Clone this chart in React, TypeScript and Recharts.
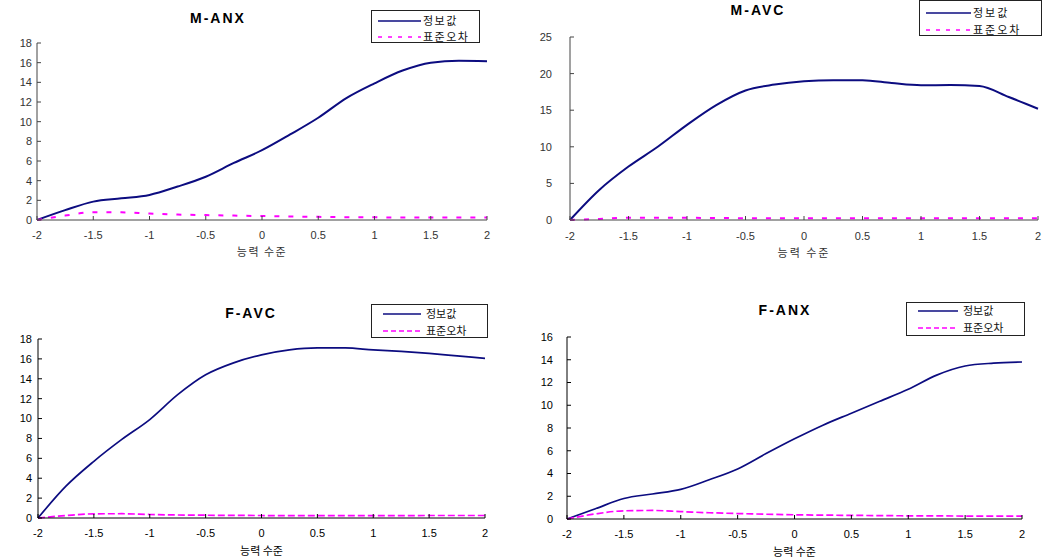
import React from 'react';
import { LineChart, Line, XAxis, YAxis, Legend, Label } from 'recharts';

// ---- data ----
const thetaLevels = [-2, -1.75, -1.5, -1.25, -1, -0.75, -0.5, -0.25, 0, 0.25, 0.5, 0.75, 1, 1.25, 1.5, 1.75, 2];
const xTicks = [-2, -1.5, -1, -0.5, 0, 0.5, 1, 1.5, 2];

const mAnxInfo = [0, 1.0, 1.87, 2.2, 2.55, 3.4, 4.4, 5.8, 7.1, 8.7, 10.4, 12.4, 13.9, 15.2, 16.0, 16.2, 16.15];
const mAnxSe = [0, 0.45, 0.8, 0.78, 0.65, 0.55, 0.5, 0.45, 0.4, 0.36, 0.32, 0.29, 0.27, 0.26, 0.25, 0.25, 0.25];

const mAvcInfo = [0, 4.1, 7.3, 10.0, 13.0, 15.7, 17.7, 18.5, 18.95, 19.1, 19.1, 18.7, 18.4, 18.45, 18.3, 16.8, 15.2];
const mAvcSe = [0, 0.15, 0.3, 0.32, 0.3, 0.27, 0.25, 0.24, 0.23, 0.23, 0.23, 0.23, 0.23, 0.23, 0.24, 0.25, 0.25];

const fAvcInfo = [0, 3.2, 5.7, 7.9, 9.9, 12.4, 14.4, 15.6, 16.4, 16.9, 17.1, 17.1, 16.9, 16.75, 16.55, 16.3, 16.05];
const fAvcSe = [0, 0.25, 0.42, 0.43, 0.35, 0.3, 0.28, 0.26, 0.25, 0.24, 0.24, 0.24, 0.24, 0.24, 0.25, 0.25, 0.25];

const fAnxInfo = [0, 0.9, 1.8, 2.2, 2.6, 3.45, 4.4, 5.75, 7.05, 8.25, 9.3, 10.35, 11.4, 12.65, 13.45, 13.7, 13.8];
const fAnxSe = [0, 0.45, 0.72, 0.75, 0.65, 0.55, 0.48, 0.42, 0.37, 0.34, 0.32, 0.3, 0.28, 0.27, 0.26, 0.25, 0.25];

const seriesNames = ['정보값', '표준오차'];
const xLabelText = '능력 수준';

const buildRows = (info: number[], se: number[]) =>
  thetaLevels.map((t, i) => ({ theta: t, info: info[i], se: se[i] }));

const NAVY = '#0c0c80';
const MAGENTA = '#ff00ff';
const LATIN = '"Liberation Sans", Arial, sans-serif';
const KR = '"Noto Sans CJK KR", sans-serif';

type Panel = {
  title: string;
  info: number[];
  se: number[];
  yTicks: number[];
  left: number;
  top: number;
  width: number;
  height: number;
  margin: { top: number; right: number; bottom: number; left: number };
  xAxisHeight: number;
  yTickMargin: number;
  xTickMargin: number;
  dash: string;
  lineW: number;
  tickColor: string;
  axisColor: string;
  titleX: number;
  titleY: number;
  legend: { x: number; y: number; w: number; h: number; lineX1: number; lineX2: number; textX: number; row1: number; row2: number; spacing: number };
  xLabelOffset: number;
};

const panels: Panel[] = [
  {
    title: 'M-ANX', info: mAnxInfo, se: mAnxSe, yTicks: [0, 2, 4, 6, 8, 10, 12, 14, 16, 18],
    left: 0, top: 0, width: 520, height: 270,
    margin: { top: 43, right: 33, bottom: 10, left: 7 }, xAxisHeight: 40,
    yTickMargin: 9, xTickMargin: 15, dash: '5 9', lineW: 2, tickColor: '#333', axisColor: '#444',
    titleX: 218, titleY: 18,
    legend: { x: 371, y: 10, w: 109, h: 33, lineX1: 6, lineX2: 49, textX: 51, row1: 10, row2: 26, spacing: 1.5 },
    xLabelOffset: 4,
  },
  {
    title: 'M-AVC', info: mAvcInfo, se: mAvcSe, yTicks: [0, 5, 10, 15, 20, 25],
    left: 520, top: 0, width: 522, height: 270,
    margin: { top: 37, right: 4, bottom: 10, left: 20 }, xAxisHeight: 40,
    yTickMargin: 22, xTickMargin: 16, dash: '5 9', lineW: 2, tickColor: '#333', axisColor: '#444',
    titleX: 758, titleY: 10,
    legend: { x: 919, y: 0, w: 123, h: 36, lineX1: 6, lineX2: 51, textX: 53, row1: 12, row2: 29, spacing: 2 },
    xLabelOffset: 3,
  },
  {
    title: 'F-AVC', info: fAvcInfo, se: fAvcSe, yTicks: [0, 2, 4, 6, 8, 10, 12, 14, 16, 18],
    left: 0, top: 290, width: 520, height: 270,
    margin: { top: 49, right: 35, bottom: 4, left: 8 }, xAxisHeight: 38,
    yTickMargin: 10, xTickMargin: 15, dash: '7 3', lineW: 1.7, tickColor: '#000', axisColor: '#000',
    titleX: 251, titleY: 313,
    legend: { x: 371, y: 304, w: 117, h: 34, lineX1: 11, lineX2: 49, textX: 54, row1: 9, row2: 26, spacing: 0 },
    xLabelOffset: 1,
  },
  {
    title: 'F-ANX', info: fAnxInfo, se: fAnxSe, yTicks: [0, 2, 4, 6, 8, 10, 12, 14, 16],
    left: 520, top: 290, width: 522, height: 270,
    margin: { top: 47, right: 20, bottom: 3, left: 17 }, xAxisHeight: 38,
    yTickMargin: 18, xTickMargin: 15, dash: '7 3', lineW: 1.7, tickColor: '#000', axisColor: '#000',
    titleX: 785, titleY: 310,
    legend: { x: 906, y: 302, w: 119, h: 34, lineX1: 11, lineX2: 51, textX: 56, row1: 8, row2: 25, spacing: 0 },
    xLabelOffset: 1,
  },
];

const makeLegendContent = (p: Panel) => (props: any) => {
  const payload: any[] = props.payload || [];
  const L = p.legend;
  const rows = [L.row1, L.row2];
  return (
    <div
      style={{
        width: L.w, height: L.h, boxSizing: 'border-box', border: '1px solid #222', background: '#fff',
        position: 'relative',
      }}
    >
      <svg width={L.w - 2} height={L.h - 2} style={{ display: 'block', overflow: 'visible' }}>
        {payload.map((entry: any, i: number) => (
          <g key={i}>
            <line
              x1={L.lineX1} x2={L.lineX2} y1={rows[i]} y2={rows[i]}
              stroke={entry.color}
              strokeWidth={1.6}
              strokeDasharray={i === 0 ? undefined : p.dash === '5 9' ? '4 6' : '5 3'}
            />
            <text
              x={L.textX} y={rows[i]} dy="0.36em"
              fontFamily={KR} fontSize={11} fill="#111" letterSpacing={p.legend.spacing}
            >
              {entry.value}
            </text>
          </g>
        ))}
      </svg>
    </div>
  );
};

function PanelChart({ p }: { p: Panel }) {
  const rows = buildRows(p.info, p.se);
  const yMax = p.yTicks[p.yTicks.length - 1];
  return (
    <div style={{ position: 'absolute', left: p.left, top: p.top, width: p.width, height: p.height }}>
      <LineChart width={p.width} height={p.height} data={rows} margin={p.margin}>
        <XAxis
          dataKey="theta" type="number" domain={[-2, 2]} ticks={xTicks} interval={0}
          height={p.xAxisHeight} tickSize={-4} tickMargin={p.xTickMargin}
          stroke={p.axisColor}
          tick={{ fill: p.tickColor, fontSize: 11, fontFamily: LATIN }}
          axisLine={{ stroke: p.axisColor }}
          tickLine={{ stroke: p.axisColor }}
        >
          <Label
            value={xLabelText} position="insideBottom" offset={p.xLabelOffset}
            style={{ fontFamily: KR, fontSize: 11, fill: p.tickColor, letterSpacing: p.legend.spacing }}
          />
        </XAxis>
        <YAxis
          type="number" domain={[0, yMax]} ticks={p.yTicks} interval={0} width={30}
          tickSize={-4} tickMargin={p.yTickMargin}
          stroke={p.axisColor}
          tick={{ fill: p.tickColor, fontSize: 11, fontFamily: LATIN }}
          axisLine={{ stroke: p.axisColor }}
          tickLine={{ stroke: p.axisColor }}
        />
        <Legend
          layout="vertical" align="center" verticalAlign="middle"
          content={makeLegendContent(p)}
          wrapperStyle={{ position: 'absolute', left: p.legend.x - p.left, top: p.legend.y - p.top, width: p.legend.w, height: p.legend.h }}
        />
        <Line
          type="monotone" dataKey="info" name={seriesNames[0]} stroke={NAVY} strokeWidth={p.lineW}
          dot={false} activeDot={false} isAnimationActive={false}
        />
        <Line
          type="monotone" dataKey="se" name={seriesNames[1]} stroke={MAGENTA} strokeWidth={p.lineW}
          strokeDasharray={p.dash} dot={false} activeDot={false} isAnimationActive={false}
        />
      </LineChart>
      <div
        style={{
          position: 'absolute', left: p.titleX - p.left - 60, top: p.titleY - p.top - 9, width: 120,
          textAlign: 'center', fontFamily: LATIN, fontWeight: 'bold', fontSize: 14, lineHeight: '18px',
          letterSpacing: 2, color: '#000',
        }}
      >
        {p.title}
      </div>
    </div>
  );
}

export default function App() {
  return (
    <div
      style={{
        position: 'absolute', left: 0, top: 0, width: 1042, height: 560, background: '#fff', overflow: 'hidden',
      }}
    >
      {panels.map((p) => (
        <PanelChart key={p.title} p={p} />
      ))}
    </div>
  );
}
